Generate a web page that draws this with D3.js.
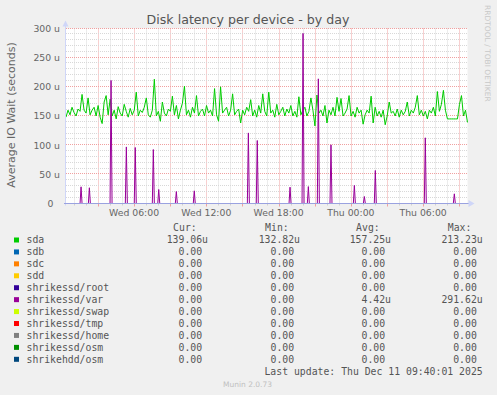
<!DOCTYPE html>
<html><head><meta charset="utf-8">
<script src="https://cdn.jsdelivr.net/npm/d3@7/dist/d3.min.js"></script>
<style>body{margin:0;background:#f0f0f0}svg{display:block}</style>
</head><body><svg id="c" width="497" height="395"></svg>
<script>
const chartTitle = "Disk latency per device - by day";
const yAxisTitle = "Average IO Wait (seconds)";
const yTickValues = [0, 50, 100, 150, 200, 250, 300];
const yTickLabels = ["0", "50 u", "100 u", "150 u", "200 u", "250 u", "300 u"];
const xTickLabelFormat = "%a %H:%M";
const timeStart = new Date(2025, 11, 10, 0, 21);
const timeEnd = new Date(2025, 11, 11, 9, 41);
const dayStart = new Date(2025, 11, 10, 0, 0);
const sdaStepMinutes = 10;
const sdaValues = [
 148,160,152,165,156,150,162,158,187,160,
 155,181,152,160,165,150,168,148,137,174,
 185,152,179,150,160,145,166,155,150,170,
 158,148,163,152,160,191,150,160,156,165,
 181,152,148,160,213,150,158,141,174,155,
 150,162,158,184,152,168,145,160,172,201,
 152,160,148,165,155,185,150,158,162,150,
 168,155,160,150,197,152,141,200,155,160,
 165,150,160,188,152,158,162,138,160,152,
 165,158,178,150,160,148,168,155,188,158,
 150,191,155,160,148,170,152,158,165,150,
 162,155,168,150,158,148,183,152,160,165,
 150,158,181,160,133,186,155,160,150,168,
 138,160,152,165,150,182,158,180,150,155,
 162,185,150,158,148,165,155,160,136,152,
 160,155,184,138,165,150,158,148,160,135,
 150,174,155,158,150,162,148,160,152,158,
 174,150,160,155,165,185,152,160,150,158,
 145,160,155,165,150,192,158,170,194,160,
 145,145,145,145,145,145,170,185,150,160,139
];
const varSpikeHours = [1.60,2.29,4.09,5.36,6.10,7.60,8.05,9.51,11.00,15.49,16.23,18.95,20.03,20.47,21.30,22.35,24.29,25.12,26.03,30.18,32.59];
const varSpikeValues = [28.6,27,211,97,96,92.5,24,20.5,21.7,121,108,28,291.6,29,213.7,100.6,31,12,56.6,112.6,16.6];
const varSpikeHalfWidthMinutes = 5;

const legendNames = ["sda","sdb","sdc","sdd","shrikessd/root","shrikessd/var","shrikessd/swap","shrikessd/tmp","shrikessd/home","shrikessd/osm","shrikehdd/osm"];
const legendColors = ["#00CC00","#0066B3","#FF8000","#FFCC00","#330099","#990099","#CCFF00","#FF0000","#808080","#008F00","#00487D"];
const legendCur = ["139.06u","0.00","0.00","0.00","0.00","0.00","0.00","0.00","0.00","0.00","0.00"];
const legendMin = ["132.82u","0.00","0.00","0.00","0.00","0.00","0.00","0.00","0.00","0.00","0.00"];
const legendAvg = ["157.25u","0.00","0.00","0.00","0.00","4.42u","0.00","0.00","0.00","0.00","0.00"];
const legendMax = ["213.23u","0.00","0.00","0.00","0.00","291.62u","0.00","0.00","0.00","0.00","0.00"];
const columnHeaders = ["Cur:","Min:","Avg:","Max:"];
const lastUpdate = "Last update: Thu Dec 11 09:40:01 2025";
const footer = "Munin 2.0.73";
const watermark = "RRDTOOL / TOBI OETIKER";

const svg = d3.select("#c");
const W = 497, H = 395;
const L = 66, R = 467.5, T = 28.5, B = 203.5;
svg.append("rect").attr("width", W).attr("height", H).attr("fill", "#f0f0f0");
svg.append("rect").attr("x", L).attr("y", T).attr("width", R - L).attr("height", B - T + 0.5).attr("fill", "#fff");

const x = d3.scaleTime().domain([timeStart, timeEnd]).range([L, R]);
const y = d3.scaleLinear().domain([0, 300]).range([B, T]);
const px = v => Math.round(v) + 0.5;

const grid = svg.append("g");
// minor vertical (hourly)
const hours = d3.timeHour.range(timeStart, timeEnd);
hours.forEach(h => {
  const major = h.getHours() % 3 === 0;
  grid.append("line").attr("x1", px(x(h))).attr("x2", px(x(h))).attr("y1", T).attr("y2", B)
    .attr("stroke", major ? "#f0a0a0" : "#d8d8d8").attr("stroke-dasharray", "1,1");
});
// horizontal minor every 10, major every 50
d3.range(10, 301, 10).forEach(v => {
  const major = v % 50 === 0;
  grid.append("line").attr("x1", L).attr("x2", R).attr("y1", px(y(v)) - 1).attr("y2", px(y(v)) - 1)
    .attr("stroke", major ? "#f0a0a0" : "#d8d8d8").attr("stroke-dasharray", "1,1");
});

// tick marks below axis
hours.forEach(h => {
  const major = h.getHours() % 3 === 0;
  svg.append("line").attr("x1", px(x(h))).attr("x2", px(x(h))).attr("y1", B + 0.5).attr("y2", B + (major ? 3 : 2))
    .attr("stroke", major ? "#f0a0a0" : "#d0d0d0");
});

// zero-valued series lines at baseline
const lineGen = d3.line().x(d => x(d.t)).y(d => y(d.v));
legendColors.forEach((c, i) => {
  if (i === 0 || i === 5) return;
  svg.append("path").datum([{t: timeStart, v: 0}, {t: timeEnd, v: 0}]).attr("d", lineGen)
    .attr("fill", "none").attr("stroke", c).attr("stroke-width", 1);
});

// sda
const sdaData = sdaValues.map((v, i) => ({t: d3.timeMinute.offset(timeStart, i * sdaStepMinutes), v}));
svg.append("path").datum(sdaData).attr("d", lineGen).attr("fill", "none")
  .attr("stroke", legendColors[0]).attr("stroke-width", 1);

// shrikessd/var
const varData = [{t: timeStart, v: 0}];
varSpikeHours.forEach((h, i) => {
  const tc = new Date(dayStart.getTime() + h * 3600e3);
  varData.push({t: d3.timeMinute.offset(tc, -varSpikeHalfWidthMinutes), v: 0});
  varData.push({t: tc, v: varSpikeValues[i]});
  varData.push({t: d3.timeMinute.offset(tc, varSpikeHalfWidthMinutes), v: 0});
});
varData.push({t: timeEnd, v: 0});
svg.append("path").datum(varData).attr("d", lineGen).attr("fill", "none")
  .attr("stroke", legendColors[5]).attr("stroke-width", 1);

// axes
svg.append("line").attr("x1", L - 0.5).attr("x2", L - 0.5).attr("y1", T - 4).attr("y2", B + 2).attr("stroke", "#cfd6f8");
svg.append("line").attr("x1", L - 2).attr("x2", R + 2).attr("y1", B).attr("y2", B).attr("stroke", "#9aa2e0");
svg.append("path").attr("d", `M${L - 3.5},${T - 2} L${L - 0.5},${T - 8} L${L + 2.5},${T - 2} Z`).attr("fill", "#cfd6f8");
svg.append("path").attr("d", `M${R + 1},${B - 3.5} L${R + 7},${B} L${R + 1},${B + 3.5} Z`).attr("fill", "#cfd6f8");

const sans = "DejaVu Sans, sans-serif";
const mono = "DejaVu Sans Mono, monospace";
const fg = "#666";

// y tick labels
yTickValues.forEach((v, i) => {
  const lbl = yTickLabels[i];
  svg.append("text").attr("x", lbl.indexOf("u") < 0 ? 53.5 : 60).attr("y", y(v)).attr("dy", "0.36em")
    .attr("text-anchor", "end").attr("font-family", sans).attr("font-size", 9.3).attr("fill", fg).text(lbl);
});
// x tick labels
const fmt = d3.timeFormat(xTickLabelFormat);
hours.filter(h => h.getHours() % 6 === 0).forEach(h => {
  svg.append("text").attr("x", x(h)).attr("y", 215.5).attr("text-anchor", "middle")
    .attr("font-family", sans).attr("font-size", 9.3).attr("fill", fg).text(fmt(h));
});

// titles
svg.append("text").attr("x", 248).attr("y", 23.5).attr("text-anchor", "middle")
  .attr("font-family", sans).attr("font-size", 12.6).attr("fill", "#555").text(chartTitle);
svg.append("text").attr("transform", "translate(14.5,115) rotate(-90)").attr("text-anchor", "middle")
  .attr("font-family", sans).attr("font-size", 11).attr("fill", fg).text(yAxisTitle);
svg.append("text").attr("transform", "translate(485,5) rotate(90)").attr("text-anchor", "start")
  .attr("font-family", sans).attr("font-size", 7.5).attr("fill", "#c8c8c8").text(watermark);

// legend
const cw = 5.9;
const colRight = [208, 300, 391, 482.7];
const cols = [legendCur, legendMin, legendAvg, legendMax];
const lf = 9.8;
columnHeaders.forEach((h, j) => {
  svg.append("text").attr("x", colRight[j] - 2 * cw + 0.5).attr("y", 227.7).attr("dy", "0.35em").attr("text-anchor", "end")
    .attr("font-family", mono).attr("font-size", lf).attr("fill", "#555").text(h);
});
legendNames.forEach((n, i) => {
  const cy = 240 + i * 11.93;
  svg.append("rect").attr("x", 14).attr("y", cy - 2.5).attr("width", 5).attr("height", 5).attr("fill", legendColors[i]);
  svg.append("text").attr("x", 26.5).attr("y", cy).attr("dy", "0.35em").attr("font-family", mono)
    .attr("font-size", lf).attr("fill", "#555").text(n);
  cols.forEach((col, j) => {
    const s = col[i];
    const xr = s.endsWith("u") ? colRight[j] : colRight[j] - cw;
    svg.append("text").attr("x", xr).attr("y", cy).attr("dy", "0.35em").attr("text-anchor", "end")
      .attr("font-family", mono).attr("font-size", lf).attr("fill", "#555").text(s);
  });
});
svg.append("text").attr("x", 482.7).attr("y", 371.7).attr("dy", "0.35em").attr("text-anchor", "end")
  .attr("font-family", mono).attr("font-size", lf).attr("fill", "#555").text(lastUpdate);
svg.append("text").attr("x", 247.5).attr("y", 384.5).attr("dy", "0.35em").attr("text-anchor", "middle")
  .attr("font-family", sans).attr("font-size", 7.5).attr("fill", "#c0c0c0").text(footer);
</script></body></html>
